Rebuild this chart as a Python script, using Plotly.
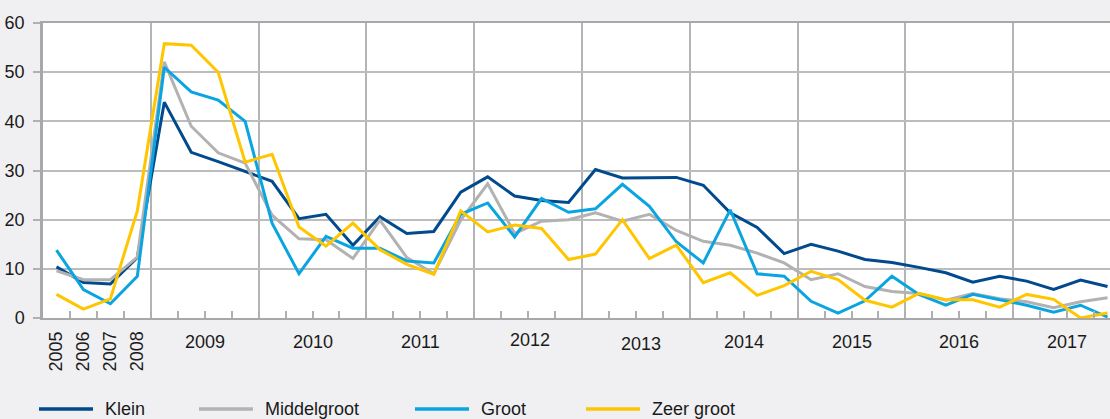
import plotly.graph_objects as go

# Periods: annual figures 2005-2008, then quarterly from 2009 to 2017
annual_years = ["2005", "2006", "2007", "2008"]
quarter_years = ["2009", "2010", "2011", "2012", "2013", "2014", "2015", "2016", "2017"]
quarters = ["Q1", "Q2", "Q3", "Q4"]
periods = annual_years + [f"{y} {q}" for y in quarter_years for q in quarters]

# Percentages per company size class
klein = [10.4, 7.2, 6.9, 12.3,
         43.9, 33.7, 31.8, 29.8,
         27.8, 20.2, 21.1, 14.8,
         20.6, 17.2, 17.6, 25.6,
         28.7, 24.8, 23.9, 23.5,
         30.2, 28.5, 28.6, 28.6,
         27.0, 21.4, 18.4, 13.1,
         15.0, 13.6, 11.9, 11.3,
         10.3, 9.2, 7.3, 8.5,
         7.5, 5.8, 7.7, 6.4]
middelgroot = [9.6, 7.8, 7.8, 12.4,
               52.1, 39.0, 33.6, 31.5,
               20.9, 16.1, 15.9, 12.1,
               19.9, 12.3, 9.0, 19.9,
               27.3, 17.2, 19.7, 20.0,
               21.4, 19.7, 21.1, 17.8,
               15.6, 14.8, 13.2, 11.2,
               7.8, 9.0, 6.4, 5.4,
               5.0, 3.6, 5.0, 3.9,
               3.3, 2.1, 3.3, 4.1]
groot = [13.8, 5.8, 2.9, 8.5,
         51.0, 46.0, 44.3, 40.0,
         19.3, 9.0, 16.6, 14.2,
         14.2, 11.6, 11.2, 21.1,
         23.4, 16.5, 24.3, 21.5,
         22.2, 27.2, 22.7, 15.5,
         11.2, 22.0, 9.0, 8.5,
         3.4, 1.0, 3.5, 8.5,
         4.8, 2.6, 4.8, 3.7,
         2.6, 1.2, 2.6, 0.2]
zeer_groot = [4.8, 1.8, 3.9, 21.8,
              55.8, 55.5, 50.0, 31.7,
              33.3, 18.5, 14.6, 19.3,
              13.9, 10.9, 8.9, 21.8,
              17.5, 18.9, 18.2, 11.9,
              13.0, 20.0, 12.1, 14.8,
              7.2, 9.2, 4.6, 6.6,
              9.5, 7.8, 3.6, 2.2,
              5.0, 3.7, 3.7, 2.2,
              4.8, 3.8, 0.0, 1.0]

series_names = ["Klein", "Middelgroot", "Groot", "Zeer groot"]
series_values = [klein, middelgroot, groot, zeer_groot]
series_colors = ["#004a8d", "#b2b2b2", "#0aa5e1", "#ffc600"]

FONT = "Liberation Sans, Arial, sans-serif"
TEXT = "#1a1a1a"
W, H = 1110, 419
M_L, M_R, M_T, M_B = 43, 0, 23, 101
PLOT_H = H - M_T - M_B
PLOT_W = W - M_L - M_R
SLOT = 26.95  # pixel width of one period

def paper_y(px):
    return (H - M_B - px) / PLOT_H

def paper_x(px):
    return (px - M_L) / PLOT_W

x = list(range(len(periods)))
n_annual = len(annual_years)

fig = go.Figure()
for name, vals, col in zip(series_names, series_values, series_colors):
    fig.add_trace(go.Scatter(
        x=x, y=vals, mode="lines", name=name,
        line=dict(color=col, width=3),
        text=periods, hovertemplate="%{text}: %{y}<extra>" + name + "</extra>",
        showlegend=False,
    ))

# year boundaries from 2008|2009 onward carry a vertical gridline
year_bounds = [n_annual - 0.5 + 4 * k for k in range(len(quarter_years))]

annotations = []
# vertical labels under the annual periods
for i, lab in enumerate(annual_years):
    annotations.append(dict(
        x=i, xref="x", y=paper_y(351), yref="paper",
        text=lab, textangle=-90, showarrow=False,
        xanchor="center", yanchor="middle",
        font=dict(family=FONT, size=18, color=TEXT),
    ))
# year labels centred under each block of four quarters
label_shift = {"2012": (2, 2), "2013": (5, -2)}
for k, yr in enumerate(quarter_years):
    idx = [n_annual + 4 * k + j for j in range(4)]
    xs, ys = label_shift.get(yr, (0, 0))
    annotations.append(dict(
        x=sum(idx) / 4, xref="x", y=paper_y(341.5), yref="paper",
        text=yr, showarrow=False, xanchor="center", yanchor="middle",
        xshift=xs, yshift=ys,
        font=dict(family=FONT, size=18, color=TEXT),
    ))

# legend row drawn along the bottom edge
legend_starts = [39, 199, 415, 586]
legend_y = 409
shapes = []
for name, col, x0 in zip(series_names, series_colors, legend_starts):
    shapes.append(dict(
        type="line", xref="paper", yref="paper",
        x0=paper_x(x0), x1=paper_x(x0 + 54),
        y0=paper_y(legend_y), y1=paper_y(legend_y),
        line=dict(color=col, width=3.5),
    ))
    annotations.append(dict(
        x=paper_x(x0 + 64), xref="paper", y=paper_y(legend_y), yref="paper",
        text=name, showarrow=False, xanchor="left", yanchor="middle",
        font=dict(family=FONT, size=18, color=TEXT),
    ))

fig.update_layout(
    width=W, height=H,
    margin=dict(l=M_L, r=M_R, t=M_T, b=M_B, pad=0),
    paper_bgcolor="#f0f0f2",
    plot_bgcolor="#ffffff",
    font=dict(family=FONT, size=18, color=TEXT),
    showlegend=False,
    annotations=annotations,
    shapes=shapes,
    xaxis=dict(
        range=[-0.5, -0.5 + PLOT_W / SLOT],
        tickmode="array", tickvals=year_bounds,
        showticklabels=False,
        ticks="inside", ticklen=7, tickwidth=1.5, tickcolor="#b0b0b0",
        showgrid=True, gridcolor="#b4b4b4", gridwidth=1.5,
        minor=dict(tickmode="linear", tick0=-0.5, dtick=1,
                   ticks="inside", ticklen=7, tickwidth=1.5,
                   tickcolor="#b0b0b0", showgrid=False),
        showline=True, linecolor="#a8a8aa", linewidth=2, mirror=True,
        zeroline=False, fixedrange=True,
    ),
    yaxis=dict(
        range=[0, 60], tickmode="linear", tick0=0, dtick=10,
        ticks="outside", ticklen=7, tickwidth=1.5, tickcolor="#b0b0b0",
        showgrid=True, gridcolor="#bcbcbc", gridwidth=1.5,
        showline=True, linecolor="#a8a8aa", linewidth=2.5,
        zeroline=False, ticklabelstandoff=5,
        tickfont=dict(family=FONT, size=18, color=TEXT),
        fixedrange=True,
    ),
)

fig.write_html("out.html")
